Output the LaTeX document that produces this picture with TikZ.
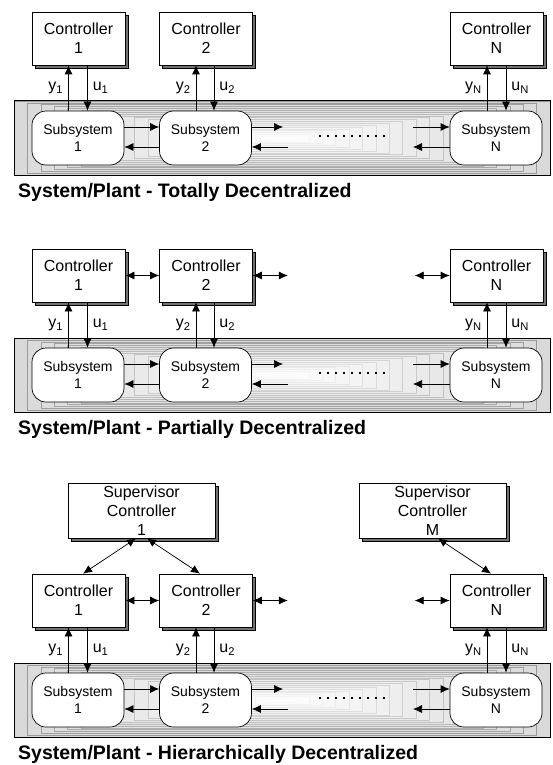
\documentclass[tikz,border=0pt]{standalone}
\usepackage{fontspec}
\setmainfont{Liberation Sans}
\usetikzlibrary{arrows.meta,shadows,calc}
\tikzset{
 ctrl/.style={draw, fill=white, line width=0.7pt, minimum width=93pt, minimum height=53pt, inner sep=0pt, align=center,
   font=\fontsize{16}{19}\selectfont,
   drop shadow={shadow xshift=3pt, shadow yshift=-3pt, fill=black!55, draw=black, line width=0.5pt, opacity=1}},
 supv/.style={ctrl, minimum width=147pt, minimum height=55pt},
 subsys/.style={draw, fill=white, rounded corners=14pt, line width=0.7pt, minimum width=92pt, minimum height=54pt, inner sep=0pt, align=center,
   font=\fontsize{14}{17}\selectfont},
 arr/.style={-{Latex[length=9pt,width=8pt]}, line width=0.7pt},
 darr/.style={{Latex[length=9pt,width=8pt]}-{Latex[length=9pt,width=8pt]}, line width=0.7pt},
 lab/.style={font=\fontsize{16}{16}\selectfont, inner sep=0pt},
 ttl/.style={font=\bfseries\fontsize{19.5}{21}\selectfont, anchor=west, inner sep=0pt},
}
\newcommand\drawpanel[3]{%
 \begin{scope}[shift={(0,#2)}]
 \foreach \i in {0,...,19}{
   \pgfmathsetmacro\f{1-\i/20}
   \pgfmathsetmacro\g{15*\f}
   \pgfmathsetmacro\h{42*\f}
   \draw[fill=black!\g, draw=black!\h, line width=0.4pt] (282-268*\f, 138-37*\f) rectangle (282+268*\f, 138+37*\f);
 }
 \draw[line width=1pt] (14,101) rectangle (550,175);
 \node[ctrl] (#1c1) at (78.5,38.5) {Controller\\1};
 \node[ctrl] (#1c2) at (206,38.5) {Controller\\2};
 \node[ctrl] (#1cN) at (496.5,38.5) {Controller\\N};
 \node[subsys] (#1s1) at (78,138) {Subsystem\\1};
 \node[subsys] (#1s2) at (205.5,138) {Subsystem\\2};
 \node[subsys] (#1sN) at (496,138) {Subsystem\\N};
 \draw[arr] ([xshift=-10pt]#1c1.south |- #1s1.north) -- node[lab, left=5pt] {y\textsubscript{1}} ([xshift=-10pt]#1c1.south);
 \draw[arr] ([xshift=9pt]#1c1.south) -- node[lab, right=5pt] {u\textsubscript{1}} ([xshift=9pt]#1c1.south |- #1s1.north);
 \draw[arr] ([xshift=-10pt]#1c2.south |- #1s2.north) -- node[lab, left=5pt] {y\textsubscript{2}} ([xshift=-10pt]#1c2.south);
 \draw[arr] ([xshift=8pt]#1c2.south) -- node[lab, right=5pt] {u\textsubscript{2}} ([xshift=8pt]#1c2.south |- #1s2.north);
 \draw[arr] ([xshift=-9.5pt]#1cN.south |- #1sN.north) -- node[lab, left=5pt] {y\textsubscript{N}} ([xshift=-9.5pt]#1cN.south);
 \draw[arr] ([xshift=9.5pt]#1cN.south) -- node[lab, right=5pt] {u\textsubscript{N}} ([xshift=9.5pt]#1cN.south |- #1sN.north);
 \draw[arr] ([yshift=11pt]#1s1.east) -- ([yshift=11pt]#1s1.east -| #1s2.west);
 \draw[arr] ([yshift=-9pt]#1s2.west) -- ([yshift=-9pt]#1s2.west -| #1s1.east);
 \coordinate (#1r1) at (283,127);
 \coordinate (#1r2) at (288,147);
 \coordinate (#1l1) at (413,127);
 \coordinate (#1l2) at (413,147);
 \draw[arr] (#1r1 -| #1s2.east) -- (#1r1);
 \draw[arr] (#1r2) -- (#1r2 -| #1s2.east);
 \draw[arr] (#1l1) -- (#1l1 -| #1sN.west);
 \draw[arr] (#1l2 -| #1sN.west) -- (#1l2);
 \foreach \k in {0,...,8}{
   \fill (318.8+8*\k, 134.8) rectangle ++(2.6,2.6);
 }
 \node[ttl] (#1t) at (18,192) {#3};
 \end{scope}}
\begin{document}
\begin{tikzpicture}[x=1pt,y=-1pt]
\useasboundingbox[fill=white] (0,0) rectangle (552,765);
\drawpanel{p1}{0}{System/Plant - Totally Decentralized}
\drawpanel{p2}{237}{System/Plant - Partially Decentralized}
\drawpanel{p3}{562}{System/Plant - Hierarchically Decentralized}
% partial: controller links
\coordinate (p2h1) at ($(p2c2.east)+(35,0)$);
\coordinate (p2h2) at ($(p2cN.west)+(-35,0)$);
\draw[darr] (p2c1.east) -- (p2c2.west);
\draw[darr] (p2c2.east) -- (p2h1);
\draw[darr] (p2h2) -- (p2cN.west);
% hierarchical
\coordinate (p3h1) at ($(p3c2.east)+(35,0)$);
\coordinate (p3h2) at ($(p3cN.west)+(-35,0)$);
\draw[darr] (p3c1.east) -- (p3c2.west);
\draw[darr] (p3c2.east) -- (p3h1);
\draw[darr] (p3h2) -- (p3cN.west);
\node[supv] (sup1) at (141.5,510.5) {Supervisor\\Controller\\1};
\node[supv] (supM) at (432.5,510.5) {Supervisor\\Controller\\M};
\draw[darr] ([xshift=-5.5pt]sup1.south) -- ([xshift=4.5pt]p3c1.north);
\draw[darr] ([xshift=5.5pt]sup1.south) -- ([xshift=-6pt]p3c2.north);
\draw[darr] ([xshift=5.5pt]supM.south) -- ([xshift=-5.5pt]p3cN.north);
\end{tikzpicture}
\end{document}
